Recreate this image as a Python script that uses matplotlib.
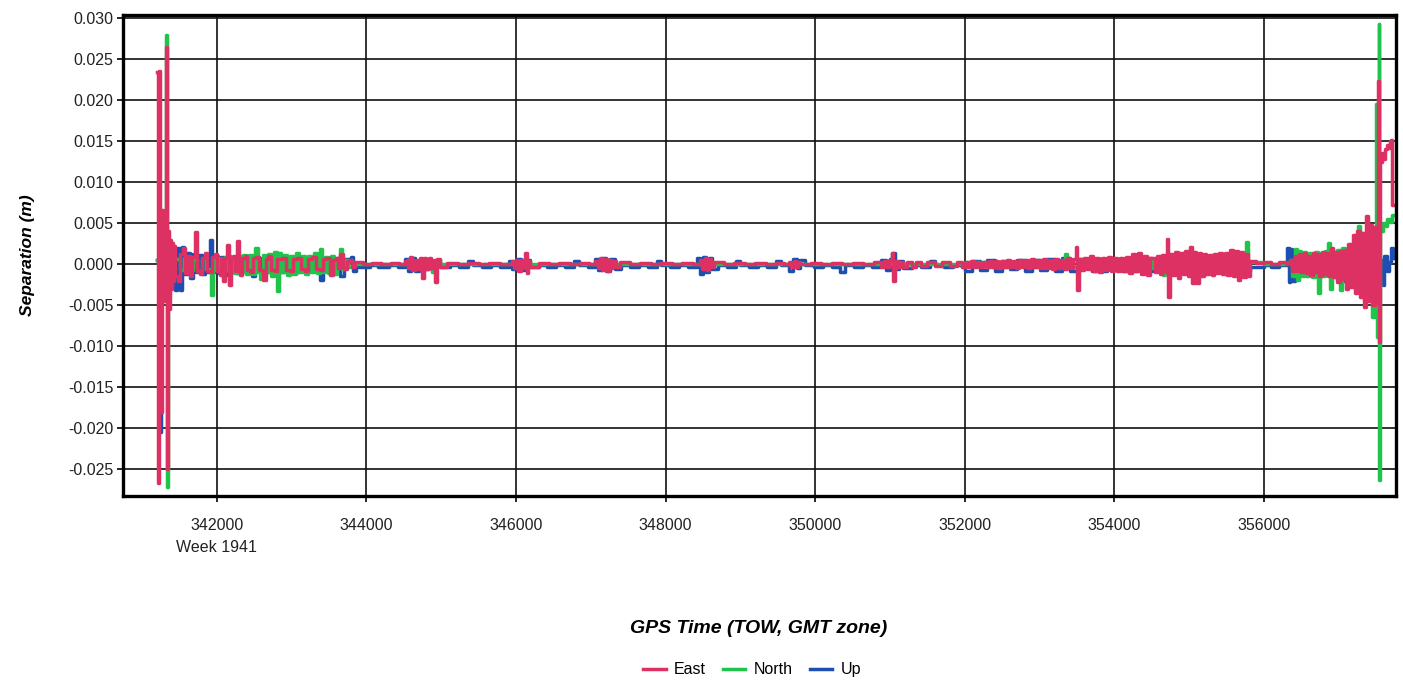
import numpy as np
import matplotlib
matplotlib.use('Agg')
import matplotlib.pyplot as plt

plt.rcParams['font.family'] = ['Liberation Sans', 'DejaVu Sans']

# GPS time of week (s), separation in mm
east_pts = [
    (341200, 23.5), (341212, -26.7), (341225, 23.6), (341240, -18.0), (341262, 6.6), (341275, -4.5),
    (341288, 5.0), (341300, -3.0), (341318, 26.5), (341332, -25.0), (341345, 4.0), (341358, -5.5),
    (341372, 3.0), (341386, -3.0), (341400, 2.6), (341415, -2.0), (341430, 2.2),
    (341440, -1.5), (341480, -2.0), (341510, 1.2), (341545, 2.0), (341575, -1.1), (341610, 1.0),
    (341639, -1.5), (341670, 0.9), (341706, 3.9), (341730, -0.9), (341773, -1.2), (341800, 0.8),
    (341840, 1.4), (341870, -0.8), (341906, -1.0), (341940, 0.9), (341973, 1.2), (342005, -0.8),
    (342040, -1.3), (342060, 0.8), (342080, -2.1), (342105, 0.7), (342134, 2.3), (342160, -2.5),
    (342185, 0.8), (342214, 1.0), (342240, -0.8), (342267, 2.8), (342290, -0.7), (342308, -1.3),
    (342340, 0.8), (342374, 1.0), (342405, -0.7), (342441, -1.0), (342480, 0.7), (342521, 0.9),
    (342560, -0.7), (342615, -1.9), (342650, 0.6), (342682, 1.0), (342720, -0.7), (342775, -0.9),
    (342810, 0.6), (342869, 0.8), (342920, -0.7), (342976, -0.9), (343020, 0.6), (343070, 0.8),
    (343120, -0.6), (343177, -0.8), (343220, 0.6), (343270, 0.9), (343320, -0.6), (343377, -0.7),
    (343420, 0.6), (343457, 0.8), (343511, -1.3), (343550, 0.5), (343591, 0.7), (343620, -0.5),
    (343645, 1.2), (343680, -0.5), (343711, -0.6), (343745, 0.4), (343778, 0.5), (343810, -0.3),
    (343845, 0.3),
    (343950, 0.05), (344080, 0.12), (344200, 0.05), (344330, 0.12), (344440, 0.05),
    (344514, 0.4), (344550, -0.5), (344580, 0.9), (344610, -0.7), (344650, 0.5), (344690, -0.6),
    (344720, 0.7), (344741, -1.7), (344770, 0.8), (344800, -0.6), (344830, 0.7), (344860, -0.5),
    (344900, 0.5), (344915, -2.2), (344940, 0.6), (344981, -0.3),
    (345080, 0.12), (345220, 0.05), (345360, 0.12), (345500, 0.05), (345640, 0.12), (345780, 0.05),
    (345940, 0.4), (345970, -0.5), (346000, 0.5), (346030, -0.9), (346060, 0.5), (346090, -0.5),
    (346120, 1.3), (346140, -1.1), (346165, 0.4), (346190, -0.3),
    (346300, 0.12), (346440, 0.05), (346580, 0.12), (346720, 0.05), (346860, 0.12), (346980, 0.05),
    (347060, 0.4), (347090, -0.5), (347120, 0.7), (347150, -0.7), (347180, 0.6), (347210, -0.8),
    (347240, 0.5), (347270, -0.5), (347300, 0.4), (347340, -0.3), (347388, 0.2),
    (347520, 0.05), (347660, 0.12), (347800, 0.05), (347940, 0.12), (348080, 0.05), (348220, 0.12),
    (348360, 0.05),
    (348460, 0.5), (348490, -0.6), (348520, 0.8), (348550, -0.7), (348580, 0.6), (348610, -0.4),
    (348640, 0.2),
    (348780, 0.05), (348920, 0.12), (349060, 0.05), (349200, 0.12), (349340, 0.05), (349480, 0.12),
    (349580, 0.05),
    (349650, 0.3), (349680, -0.4), (349710, 0.4), (349740, -0.3), (349770, 0.3), (349800, 0.05),
    (349940, 0.12), (350080, 0.05), (350220, 0.12), (350360, 0.05), (350500, 0.12), (350640, 0.05),
    (350780, 0.2),
    (350880, -0.3), (350920, 0.4), (350960, -0.4), (350990, 0.5), (351025, 1.3), (351040, -2.0),
    (351070, 0.4), (351100, -0.4), (351140, 0.3), (351180, -0.3), (351230, 0.3), (351290, -0.3),
    (351350, 0.2), (351420, -0.2), (351500, 0.2), (351600, -0.2), (351700, 0.2), (351800, -0.2),
    (351900, 0.2), (351960, -0.3),
    (352000, 0.3), (352040, -0.3), (352080, 0.4), (352120, -0.3), (352160, 0.3), (352200, -0.4),
    (352240, 0.3), (352280, -0.3), (352320, 0.4), (352360, -0.3), (352400, 0.4), (352440, -0.5),
    (352480, 0.4), (352520, -0.4), (352560, 0.5), (352600, -0.4), (352640, 0.4), (352680, -0.5),
    (352720, 0.5), (352760, -0.4), (352800, 0.5), (352840, -0.5), (352880, 0.6), (352920, -0.4),
    (352960, 0.5), (353000, -0.5), (353040, 0.6), (353080, -0.5), (353120, 0.5), (353160, -0.6),
    (353200, 0.6), (353240, -0.5), (353280, 0.5), (353320, -0.6), (353360, 0.8), (353400, -0.5),
    (353440, 0.6),
    (353485, 2.1), (353500, -3.1), (353530, 0.6),
    (353560, -0.7), (353600, 0.8), (353640, -0.6), (353680, 1.0), (353720, -0.8), (353760, 0.7),
    (353800, -1.0), (353840, 0.8), (353880, -0.7), (353920, 0.9), (353960, -0.8), (354000, 0.8),
    (354040, -0.9), (354080, 0.7), (354120, -0.8), (354160, 0.9), (354200, -1.1), (354240, 1.2),
    (354280, -0.9), (354320, 1.3), (354360, -1.2), (354400, 1.0), (354440, -1.3), (354480, 0.8),
    (354541, -1.0), (354575, 1.0), (354608, -1.2), (354640, 1.1), (354670, -1.0), (354702, 3.1),
    (354715, -4.0), (354742, 1.2), (354775, -1.3), (354810, 1.5), (354845, -1.7), (354880, 1.4),
    (354915, -1.2), (354950, 1.6), (354985, -1.4), (355010, 2.1), (355035, -2.3), (355065, 1.5),
    (355095, -2.3), (355125, 1.3), (355160, -1.4), (355195, 1.2), (355230, -1.2), (355265, 1.1),
    (355300, -1.3), (355335, 1.2), (355370, -1.1), (355405, 1.3), (355440, -1.2), (355475, 1.4),
    (355510, -1.3), (355545, 1.7), (355580, -1.4), (355615, 1.6), (355650, -1.9), (355685, 1.5),
    (355720, -1.6), (355755, 1.2), (355790, -1.4), (355810, 0.4),
    (355900, 0.1), (356000, 0.2), (356100, 0.05), (356200, 0.2), (356300, 0.05),
    (356350, 0.5), (356380, -0.8), (356410, 1.0), (356440, -0.9), (356470, 1.2), (356500, -1.0),
    (356530, 1.3), (356560, -1.1), (356590, 1.0), (356620, -1.3), (356650, 1.4), (356680, -1.0),
    (356710, 1.2), (356740, -1.4), (356770, 1.5), (356800, -1.2), (356830, 1.3), (356860, -1.5),
    (356890, 2.0), (356920, -1.6), (356950, 1.5), (356980, -2.2), (357010, 1.6), (357040, -1.8),
    (357070, 1.7), (357100, -3.0),
    (357130, 2.5), (357160, -2.8), (357190, 3.5), (357220, -3.5), (357250, 4.0), (357280, -4.0),
    (357310, 3.8), (357340, -5.2), (357360, 5.9), (357390, -4.5), (357420, 4.8), (357450, -5.0),
    (357480, 4.5), (357505, -4.8),
    (357530, 22.4), (357542, -9.5), (357555, 12.5), (357575, 13.5), (357595, 12.8), (357615, 14.0),
    (357640, 14.5), (357665, 14.2), (357690, 15.0), (357705, 15.2), (357715, 7.2), (357725, 7.2),
]

north_pts = [
    (341200, 0.5), (341318, 28.0), (341330, -27.2), (341345, 2.0), (341360, -2.0), (341400, 1.5),
    (341430, 0.6), (341500, -0.7), (341560, 0.8), (341620, -0.7), (341680, 0.6), (341740, -0.8),
    (341800, 0.7), (341860, -0.6), (341920, -3.8), (341945, 0.7), (341990, -0.7), (342030, 0.8),
    (342070, -0.8), (342110, 0.9), (342150, -0.8), (342190, 0.9), (342230, -1.1), (342270, 1.0),
    (342310, -1.0), (342350, 1.1), (342390, -1.2), (342430, 1.1), (342470, -1.2), (342508, 2.0),
    (342545, -1.0), (342580, -1.8), (342610, 1.1), (342640, -1.0), (342680, 1.2), (342720, -1.4),
    (342760, 1.5), (342802, -3.3), (342830, 1.3), (342860, -1.0), (342900, 1.1), (342940, -1.3),
    (342980, 1.0), (343020, -1.2), (343060, 1.3), (343100, -1.0), (343140, 1.0), (343180, -1.2),
    (343220, 1.0), (343260, -1.0), (343300, 1.3), (343340, -1.1), (343377, 1.8), (343410, -1.0),
    (343450, 0.9), (343490, -1.1), (343530, 1.0), (343570, -1.2), (343610, 0.8), (343645, 1.9),
    (343670, -0.6), (343710, 0.5), (343750, -0.3), (343800, 0.1), (343850, 0.05),
    (344560, 0.5), (344600, -0.5), (344640, 0.05), (344880, -1.0), (344900, 0.05),
    (347120, 0.5), (347160, -0.5), (347200, 0.05), (351000, 0.4), (351040, -0.5), (351080, 0.05),
    (352000, 0.3), (352300, -0.3), (352600, 0.3), (352900, -0.3), (353200, 0.4), (353338, 1.2),
    (353360, -0.4), (353600, 0.4), (353900, -0.5), (354200, 0.5), (354500, -0.5), (354620, 0.9),
    (354650, -1.3), (354680, 0.4), (355000, -0.5), (355300, 0.5), (355600, -0.5), (355760, 2.7),
    (355780, -1.3), (355800, 0.2), (356000, 0.05), (356300, 0.1),
    (356346, 0.5), (356380, -1.5), (356410, 1.8), (356440, -1.9), (356470, 1.6), (356500, -1.5),
    (356530, 1.5), (356560, -1.4), (356600, 1.3), (356640, -1.6), (356680, 1.5), (356720, -3.5),
    (356750, 1.4), (356790, -1.5), (356820, 1.6), (356854, 2.6), (356880, -3.0), (356910, 1.5),
    (356950, -1.6), (356980, 1.7), (357014, -3.2), (357040, 2.0), (357080, -1.8), (357110, 1.5),
    (357150, -1.5), (357190, 1.8), (357230, -1.2), (357255, 4.7), (357280, -2.0), (357320, 2.5),
    (357360, -2.2), (357400, 2.8), (357442, -6.4), (357470, 1.5), (357496, 19.5), (357510, -8.9),
    (357525, 2.0), (357534, 29.3), (357540, -26.3), (357550, 4.0), (357590, 5.0), (357620, 4.6),
    (357650, 5.5), (357680, 5.2), (357710, 6.0), (357725, 6.0),
]

up_pts = [
    (341200, 0.5), (341235, -20.5), (341250, 2.0), (341280, -3.0), (341320, 2.5), (341360, -2.0),
    (341400, 1.5), (341440, -3.1), (341470, 2.0), (341500, -3.2), (341530, 2.1), (341560, -1.2),
    (341600, 1.3), (341639, -1.7), (341680, 1.2), (341720, -1.0), (341760, 1.1), (341800, -1.2),
    (341840, 1.0), (341880, -1.0), (341906, 3.0), (341930, -1.0), (341970, 1.0), (342010, -1.1),
    (342050, 0.9), (342090, -1.3), (342130, 1.0), (342170, -1.0), (342210, 0.9), (342250, -1.1),
    (342290, 1.0), (342330, -0.9), (342370, 1.0), (342410, -1.0), (342470, -1.4), (342510, 0.9),
    (342560, -1.0), (342600, 0.8), (342650, -1.0), (342700, 0.9), (342750, -1.1), (342800, 0.8),
    (342850, -1.0), (342900, 0.9), (342950, -0.9), (343000, 0.8), (343050, -1.0), (343100, 0.8),
    (343150, -0.9), (343200, 0.9), (343250, -0.9), (343300, 0.8), (343377, -1.9), (343420, 0.8),
    (343470, -0.9), (343520, 0.7), (343570, -0.8), (343645, -1.5), (343700, 0.6), (343790, 0.9),
    (343820, -0.8), (343860, -0.25),
    (343900, -0.3), (344050, -0.1), (344150, -0.3), (344300, -0.1), (344420, -0.3),
    (344514, 0.6), (344550, -0.8), (344600, 0.7), (344650, -0.9), (344700, 0.5), (344760, -0.6),
    (344820, 0.4), (344870, -0.7), (344930, 0.5), (344981, -0.3),
    (345000, -0.3), (345120, -0.05), (345240, -0.3), (345360, 0.35), (345420, -0.05), (345540, -0.3),
    (345660, -0.05), (345780, -0.3), (345900, 0.4), (345950, -0.6), (346000, 0.6), (346060, -0.7),
    (346120, 0.5), (346180, -0.4), (346300, -0.05), (346420, -0.3), (346540, -0.05), (346660, -0.3),
    (346780, 0.35), (346840, -0.05), (346960, -0.3), (347060, 0.6), (347100, -0.7), (347150, 0.7),
    (347200, -0.8), (347260, 0.6), (347320, -0.6), (347400, -0.05), (347520, -0.3), (347640, -0.05),
    (347760, -0.3), (347880, 0.35), (347940, -0.05), (348060, -0.3), (348180, -0.05), (348300, -0.3),
    (348420, 0.8), (348460, -1.2), (348500, 0.9), (348540, -1.0), (348580, 0.8), (348620, -0.6),
    (348700, -0.05), (348820, -0.3), (348940, 0.35), (349000, -0.05), (349120, -0.3), (349240, -0.05),
    (349360, -0.3), (349480, 0.35), (349540, -0.05), (349650, -0.9), (349700, 0.6), (349750, -0.5),
    (349800, 0.5), (349860, -0.05), (349980, -0.3), (350100, -0.05), (350220, -0.3), (350330, -1.0),
    (350400, -0.05), (350520, -0.3), (350640, -0.05), (350760, -0.3), (350880, 0.5), (350940, -0.7),
    (351000, 0.6), (351025, 1.4), (351060, -0.6), (351120, 0.4), (351180, -0.5), (351300, -0.05),
    (351420, -0.3), (351540, 0.35), (351600, -0.05), (351720, -0.3), (351840, -0.05), (351960, -0.3),
    (352000, -0.8), (352100, 0.4), (352200, -0.7), (352300, 0.5), (352400, -0.8), (352500, 0.4),
    (352600, -0.6), (352700, 0.5), (352800, -0.9), (352900, 0.5), (353000, -0.7), (353100, 0.6),
    (353200, -0.8), (353300, 0.7), (353400, -0.9), (353500, 0.6), (353700, -0.8), (353900, 0.6),
    (354100, -0.8), (354300, 0.7), (354500, -0.9), (354700, 0.7), (354900, -0.9), (355100, 0.8),
    (355300, -0.8), (355500, 0.7), (355700, -0.9), (355810, -0.4), (355900, -0.3), (356000, -0.15),
    (356100, -0.3), (356200, -0.15),
    (356306, 2.0), (356330, -2.2), (356350, 1.8), (356380, -2.0), (356410, 1.2), (356440, -0.9),
    (356500, 1.0), (356560, -1.0), (356620, 1.1), (356680, -1.0), (356740, 1.0), (356800, -1.2),
    (356860, 1.0), (356920, -1.1), (356980, 0.9), (357040, -2.0), (357080, 0.8), (357150, -1.0),
    (357200, 1.0), (357260, -1.0), (357320, 1.0), (357380, -1.0), (357440, 1.0), (357500, -1.0),
    (357570, 0.5), (357590, -2.5), (357610, 1.0), (357640, -0.8), (357670, 0.3), (357700, 2.0),
    (357725, 0.8),
]

x_ticks = [342000, 344000, 346000, 348000, 350000, 352000, 354000, 356000]
x_labels = ['342000\nWeek 1941', '344000', '346000', '348000', '350000', '352000', '354000', '356000']
y_ticks = [-0.025, -0.020, -0.015, -0.010, -0.005, 0.0, 0.005, 0.010, 0.015, 0.020, 0.025, 0.030]

fig = plt.figure(figsize=(14.03, 6.82), dpi=100)
ax = fig.add_axes([0.0877, 0.2727, 0.9073, 0.7053])

series = [('Up', up_pts, '#1C4FB0'), ('North', north_pts, '#20C44A'), ('East', east_pts, '#DE3163')]
lines = {}
for name, pts, col in series:
    t, v = np.array(pts, dtype=float).T
    ln, = ax.plot(t, v / 1000.0, drawstyle='steps-post', color=col, lw=2.5, label=name)
    lines[name] = ln

ax.set_xlim(340745, 357765)
ax.set_ylim(-0.0283, 0.0304)
ax.set_xticks(x_ticks)
ax.set_xticklabels(x_labels)
ax.set_yticks(y_ticks)
ax.set_yticklabels(['%.3f' % abs(v) if round(v, 3) == 0 else '%.3f' % v for v in y_ticks])
ax.tick_params(labelsize=11.5, labelcolor='#222222', length=4, width=1.2, pad=3)
ax.tick_params(axis='x', pad=12)
for lab in ax.get_xticklabels():
    lab.set_linespacing(1.55)
ax.grid(True, color='#111111', lw=1.2)
for s in ax.spines.values():
    s.set_linewidth(2.4)
    s.set_color('black')

ax.set_ylabel('Separation (m)', fontsize=12.5, fontweight='bold', style='italic', labelpad=24)
fig.text(0.541, 0.079, 'GPS Time (TOW, GMT zone)', fontsize=14, fontweight='bold',
         style='italic', ha='center', va='center')

fig.legend([lines['East'], lines['North'], lines['Up']], ['East', 'North', 'Up'],
           loc='center', bbox_to_anchor=(0.536, 0.018), ncol=3, frameon=False,
           fontsize=11.5, handlelength=1.4, columnspacing=1.1, handletextpad=0.5)

plt.savefig('out.png', dpi=100)
